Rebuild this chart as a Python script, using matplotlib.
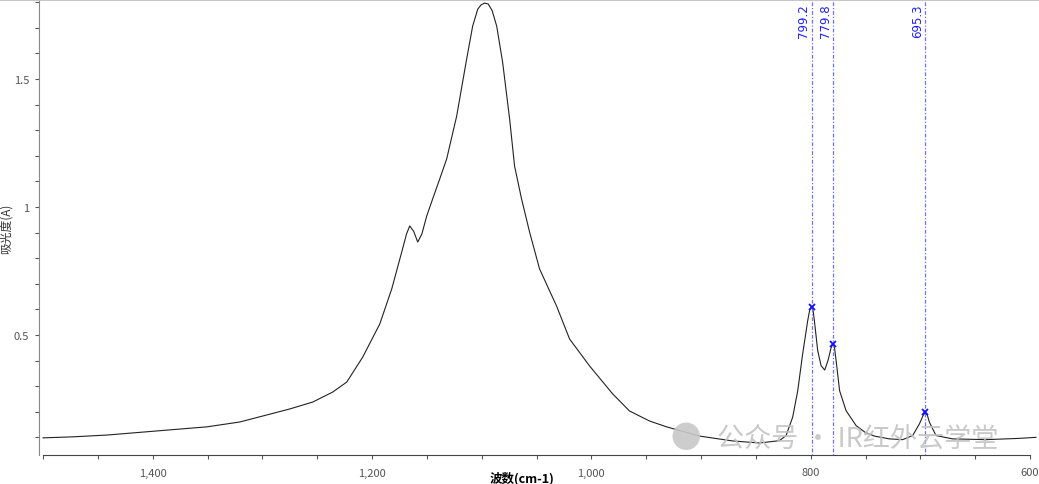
import numpy as np
import matplotlib.pyplot as plt
from matplotlib.ticker import MultipleLocator, FuncFormatter

plt.rcParams['font.family'] = ['Noto Sans CJK SC', 'DejaVu Sans']

# spectrum: wavenumber (cm-1), absorbance (A)
wavenumber = [1500, 1472.7, 1441.7, 1396.1, 1350.6, 1320.5, 1274.9, 1254.0, 1235.8, 1223.0,
              1208.4, 1192.9, 1182.0, 1172.9, 1168.5, 1165.6, 1162.0, 1158.3, 1154.5, 1150.1,
              1144.0, 1138.3, 1131.9, 1122.8, 1113.7, 1108.2, 1103.6, 1100.5, 1097.3, 1094.0,
              1090.5, 1086.3, 1080.9, 1074.5, 1070.0, 1063.6, 1056.3, 1047.2, 1031.7, 1019.8,
              1001.6, 980.6, 965.2, 947.0, 931.4, 901.4, 871.3, 846.7, 828.5, 822.4,
              816.4, 811.8, 807.3, 802.7, 801.0, 799.2, 797.8, 796.6, 793.6, 790.5,
              787.2, 784.2, 781.5, 779.8, 778.2, 776.8, 773.6, 767.7, 758.6, 750.5,
              742.0, 728.3, 716.1, 707.0, 700.9, 697.5, 695.3, 693.5, 691.7, 685.7,
              670.6, 640.0, 609.8, 594.6]
absorbance = [0.098, 0.102, 0.109, 0.125, 0.141, 0.160, 0.211, 0.238, 0.277, 0.316,
              0.414, 0.543, 0.680, 0.824, 0.895, 0.926, 0.905, 0.863, 0.895, 0.965,
              1.040, 1.109, 1.188, 1.355, 1.578, 1.707, 1.773, 1.790, 1.797, 1.793,
              1.768, 1.707, 1.566, 1.344, 1.160, 1.031, 0.902, 0.758, 0.613, 0.484,
              0.379, 0.270, 0.203, 0.164, 0.141, 0.105, 0.086, 0.078, 0.087, 0.107,
              0.179, 0.282, 0.426, 0.556, 0.595, 0.611, 0.595, 0.556, 0.439, 0.380,
              0.363, 0.400, 0.448, 0.465, 0.448, 0.400, 0.282, 0.204, 0.146, 0.120,
              0.105, 0.094, 0.091, 0.107, 0.152, 0.185, 0.198, 0.185, 0.159, 0.107,
              0.094, 0.091, 0.096, 0.100]

peak_pos = [799.2, 779.8, 695.3]
peak_val = [0.611, 0.465, 0.198]
peak_labels = ['799.2', '779.8', '695.3']

fig = plt.figure(figsize=(10.39, 4.85), dpi=100)
ax = fig.add_axes([43/1039, 29/485, 987/1039, 454/485])

ax.plot(wavenumber, absorbance, color='#222222', linewidth=0.8, clip_on=False)

for x, y, lab in zip(peak_pos, peak_val, peak_labels):
    ax.axvline(x, color='#7070ff', linewidth=0.9, linestyle=(0, (1, 1.5, 3, 1.5)))
    ax.plot(x, y, marker='x', color='#1010ff', markersize=5, mew=1.3)
    ax.text(x + 1.0, 1.795, lab, rotation=90, ha='right', va='top', color='#2020ff',
            fontsize=8.5, family=['DejaVu Sans'])

ax.set_xlim(1500, 600)
ax.set_ylim(0.031, 1.805)

ax.xaxis.set_major_locator(MultipleLocator(200))
ax.xaxis.set_minor_locator(MultipleLocator(50))
ax.yaxis.set_major_locator(MultipleLocator(0.5))
ax.yaxis.set_minor_locator(MultipleLocator(0.1))
ax.xaxis.set_major_formatter(FuncFormatter(lambda v, p: '{:,.0f}'.format(v)))
ax.yaxis.set_major_formatter(FuncFormatter(lambda v, p: '{:g}'.format(v)))

ax.tick_params(which='both', direction='out', colors='#555555', labelsize=8, width=0.8)
ax.tick_params(axis='x', which='both', length=3, pad=6)
ax.tick_params(axis='y', which='both', length=3, pad=4)

ax.spines['top'].set_visible(False)
ax.spines['right'].set_visible(False)
ax.spines['left'].set_position(('outward', 3))
ax.spines['left'].set_color('#888888')
ax.spines['bottom'].set_color('#444444')

ax.set_xlabel('波数(cm-1)', fontsize=9, fontweight='bold')
ax.xaxis.set_label_coords(0.485, -0.035)
ax.set_ylabel('吸光度(A)', fontsize=8.5, color='#333333')
ax.yaxis.set_label_coords(-0.0305, 0.5)

# top frame line
fig.add_artist(plt.Line2D([0, 1], [0.998, 0.998], color='#bbbbbb', linewidth=1.2,
                          transform=fig.transFigure))

# watermark
fig.text(0.645, 0.093, '\u25CF', fontsize=22, color='#c8c8c8', alpha=0.9, va='center')
fig.text(0.69, 0.093, '公众号 · IR红外云学堂', fontsize=19.5, color='#c0c0c0',
         alpha=0.85, va='center')

fig.savefig('out.png', dpi=100)
